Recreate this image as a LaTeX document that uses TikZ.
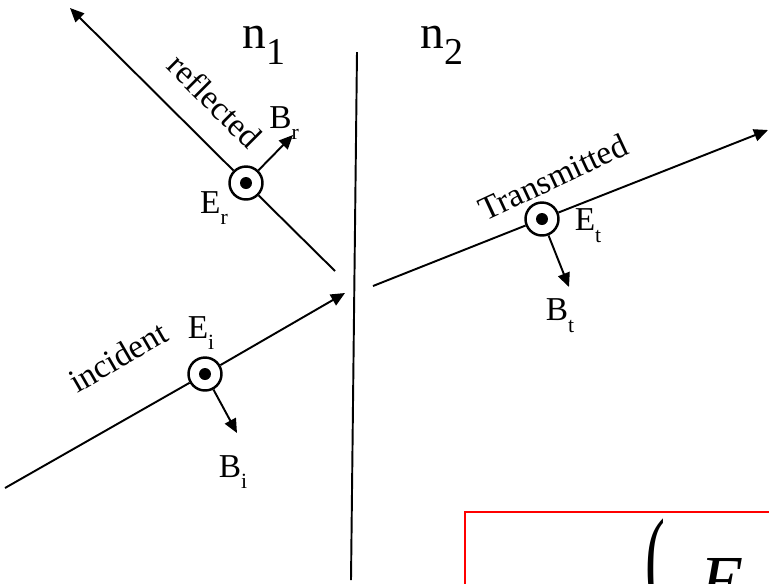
\documentclass[tikz,border=0pt]{standalone}
\usepackage{fontspec}
\setmainfont{Liberation Serif}
\usetikzlibrary{arrows.meta}
\newcommand{\sbs}[2]{\raisebox{-0.35em}{\scalebox{#1}{#2}}}

\begin{document}
\begin{tikzpicture}[x=0.02cm, y=-0.02cm, >={Triangle[length=8pt, width=7pt]},
    line width=1.1pt,
    efield/.style={circle, draw, fill=white, line width=1.4pt, minimum size=0.66cm,
                   inner sep=0pt,
                   path picture={\fill[black] (path picture bounding box.center) circle (0.12cm);}},
    lbl/.style={font=\fontsize{19}{21}\selectfont, inner sep=1pt},
    wavename/.style={font=\fontsize{19}{21}\selectfont, inner sep=1pt}]
  \useasboundingbox (0,0) rectangle (769,583);
  \clip (0,0) rectangle (769,583);

  % interface between the two media
  \coordinate (top) at (357,52);
  \coordinate (bot) at (351,580);
  \draw (top) -- (bot);
  \node[font=\fontsize{27}{30}\selectfont, anchor=base west] (n1) at (236,48) {n\sbs{0.8}{1}};
  \node[font=\fontsize{27}{30}\selectfont, anchor=base west] (n2) at (414,48) {n\sbs{0.8}{2}};

  % incident wave
  \coordinate (iS) at (5,488);
  \coordinate (iT) at (345,293);
  \node[efield] (Ei) at (205,374) {};
  \coordinate (iB) at (237,433);
  \draw (iS) -- (Ei);
  \draw[->] (Ei) -- (iT);
  \draw[->] (Ei) -- (iB);
  \node[lbl] (Eilbl) at (201,333) {E\sbs{0.65}{i}};
  \node[lbl] (Bilbl) at (233,472) {B\sbs{0.65}{i}};
  \node[wavename, rotate=30] (inc) at (118,357) {incident};

  % reflected wave
  \coordinate (rS) at (335,271);
  \coordinate (rT) at (70,8);
  \node[efield] (Er) at (246,183) {};
  \coordinate (rB) at (293,135);
  \draw (rS) -- (Er);
  \draw[->] (Er) -- (rT);
  \draw[->] (Er) -- (rB);
  \node[lbl] (Erlbl) at (214,208) {E\sbs{0.65}{r}};
  \node[lbl] (Brlbl) at (284,123) {B\sbs{0.65}{r}};
  \node[wavename, rotate=-45] (refl) at (215,101) {reflected};

  % transmitted wave
  \coordinate (tS) at (373,286);
  \coordinate (tT) at (768,130);
  \node[efield] (Et) at (542,219) {};
  \coordinate (tB) at (569,287);
  \draw (tS) -- (Et);
  \draw[->] (Et) -- (tT);
  \draw[->] (Et) -- (tB);
  \node[lbl] (Etlbl) at (588,226) {E\sbs{0.65}{t}};
  \node[lbl] (Btlbl) at (560,316) {B\sbs{0.65}{t}};
  \node[wavename, rotate=25] (trans) at (553,177) {Transmitted};

  % boxed formula, cut by the edge
  \draw[red, line width=1.2pt] (465,512) rectangle (820,640);
  \node[font=\fontsize{34}{38}\selectfont, anchor=base west, inner sep=0pt] (par) at (645,597)
    {\scalebox{1}[1.9]{(}};
  \node[font=\fontsize{40}{44}\selectfont\itshape, anchor=base west, inner sep=0pt] (E) at (700,604) {E};
\end{tikzpicture}
\end{document}
